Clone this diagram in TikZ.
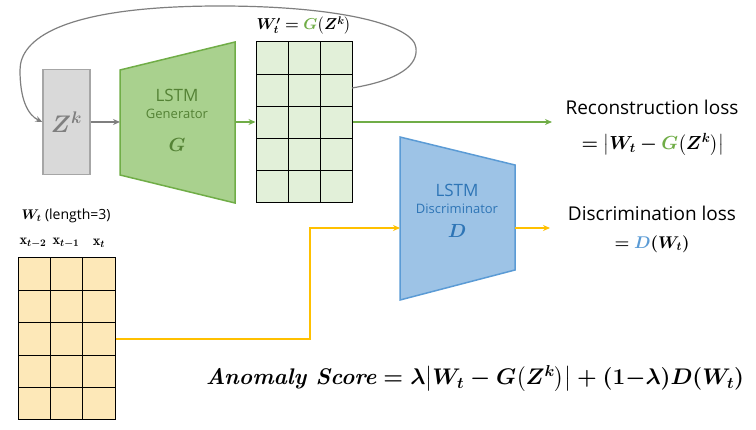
\RequirePackage{fix-cm}
\documentclass[tikz,border=0pt]{standalone}
\usepackage{amsmath}
\usepackage{bm}
\usepackage{fontspec}
\newfontfamily\labelfont{Open Sans}
\usetikzlibrary{arrows.meta}
\definecolor{zfill}{HTML}{D9D9D9}
\definecolor{zline}{HTML}{A6A6A6}
\definecolor{ztext}{HTML}{7F7F7F}
\definecolor{gfill}{HTML}{A9D18E}
\definecolor{gline}{HTML}{70AD47}
\definecolor{gtext}{HTML}{548235}
\definecolor{ggrid}{HTML}{E2F0D9}
\definecolor{dfill}{HTML}{9DC3E6}
\definecolor{dline}{HTML}{5B9BD5}
\definecolor{dtext}{HTML}{2E75B6}
\definecolor{wfill}{HTML}{FDE8B8}
\definecolor{warrow}{HTML}{FFC000}
\definecolor{loopgray}{HTML}{7F7F7F}
\tikzstyle{latentbox} = [rectangle, minimum width=47pt, minimum height=105pt, draw=zline, fill=zfill, line width=1.5pt, text=ztext, font=\fontsize{24}{26}\selectfont]
\tikzstyle{gridbox} = [rectangle, minimum width=96pt, minimum height=161pt, draw=black, line width=1pt, inner sep=0pt]
\tikzstyle{lstmtext} = [font=\labelfont\fontsize{17}{19}\selectfont]
\tikzstyle{roletext} = [font=\labelfont\fontsize{13}{15}\selectfont]
\tikzstyle{symtext} = [font=\fontsize{19}{21}\selectfont]
\tikzstyle{losstext} = [font=\labelfont\fontsize{19}{22}\selectfont]
\tikzstyle{eqtext} = [font=\fontsize{18.9}{21}\selectfont]
\tikzstyle{scoretext} = [font=\boldmath\fontsize{22.6}{26}\selectfont]
\tikzstyle{arrow} = [line width=1.3pt, -{Stealth[length=7pt,width=6pt]}]
\begin{document}
\begin{tikzpicture}[x=1pt, y=-1pt]
\useasboundingbox (0,0) rectangle (756,430);
% latent input
\node[latentbox] (zk) at (66.5,122) {$\bm{Z^k}$};
% generator
\draw[draw=gline, fill=gfill, line width=1.5pt] (120,70) -- (235,42) -- (235,203) -- (120,175) -- cycle;
\coordinate (genin) at (120,122);
\coordinate (genout) at (235,122);
\node[lstmtext, text=gtext] (genlstm) at (177,95) {LSTM};
\node[roletext, text=gtext] (genrole) at (177,114) {Generator};
\node[symtext, text=gtext] (gensym) at (177,145) {$\bm{G}$};
% generated window
\node[gridbox, fill=ggrid] (wgen) at (304,122.5) {};
\foreach \x in {288,320} \draw[line width=1pt] (\x,42) -- (\x,203);
\foreach \y in {74.2,106.4,138.6,170.8} \draw[line width=1pt] (256,\y) -- (352,\y);
\node[font=\fontsize{15.8}{18}\selectfont] (wgenlbl) at (304,26) {$\bm{W'_t = {\color{gline}G}\big(Z^k\big)}$};
% real window
\node[gridbox, fill=wfill, minimum width=97pt, minimum height=162pt] (wreal) at (66.5,339) {};
\foreach \x in {50.3,82.7} \draw[line width=1pt] (\x,258) -- (\x,420);
\foreach \y in {290.4,322.8,355.2,387.6} \draw[line width=1pt] (18,\y) -- (115,\y);
\node[font=\labelfont\fontsize{14}{16}\selectfont] (wreallbl) at (66,216) {$\bm{W_t}$ (length=3)};
\node[font=\fontsize{14.4}{16}\selectfont] (xa) at (33,243) {$\mathbf{x}_{\bm{t-2}}$};
\node[font=\fontsize{14.4}{16}\selectfont] (xb) at (66,243) {$\mathbf{x}_{\bm{t-1}}$};
\node[font=\fontsize{14.4}{16}\selectfont] (xc) at (99,243) {$\mathbf{x}_{\bm{t}}$};
% discriminator
\draw[draw=dline, fill=dfill, line width=1.5pt] (400,137) -- (515,165) -- (515,270) -- (400,300) -- cycle;
\coordinate (discin) at (400,228);
\coordinate (discout) at (515,228);
\node[lstmtext, text=dtext] (disclstm) at (457,190) {LSTM};
\node[roletext, text=dtext] (discrole) at (457,209) {Discriminator};
\node[symtext, text=dtext] (discsym) at (457,231) {$\bm{D}$};
% losses
\node[losstext] (recon) at (652,107) {Reconstruction loss};
\node[eqtext] (reconeq) at (653,145) {$\bm{=\big|W_t - {\color{gline}G}\big(Z^k\big)\big|}$};
\coordinate (reconin) at (552,122);
\node[losstext] (discr) at (652,213) {Discrimination loss};
\node[eqtext, font=\fontsize{17}{20}\selectfont] (discreq) at (652,244) {$\bm{= {\color{dline}D}(W_t)}$};
\coordinate (discrin) at (550,228);
\node[scoretext] (score) at (475,379) {\textbf{\textit{Anomaly Score}} $= \lambda\big|W_t - G\big(Z^k\big)\big| + \mathbf{(1-}\lambda\mathbf{)}D(W_t)$};
% connectors
\draw[arrow, color=loopgray, line width=1.2pt] (zk.east) -- (genin);
\draw[arrow, color=gline] (genout) -- (wgen.west |- genout);
\draw[arrow, color=gline] (wgen.east |- reconin) -- (reconin);
\draw[arrow, color=warrow] (wreal.east) -| (310,228) -- (discin);
\draw[arrow, color=warrow] (discout) -- (discrin);
\draw[arrow, color=loopgray, line width=1.2pt] (352,88) .. controls (400,80) and (418,65) .. (416,48) .. controls (414,25) and (340,6) .. (220,6) .. controls (60,6) and (20,40) .. (20,70) .. controls (20,100) and (28,115) .. (zk.west);
\end{tikzpicture}
\end{document}
